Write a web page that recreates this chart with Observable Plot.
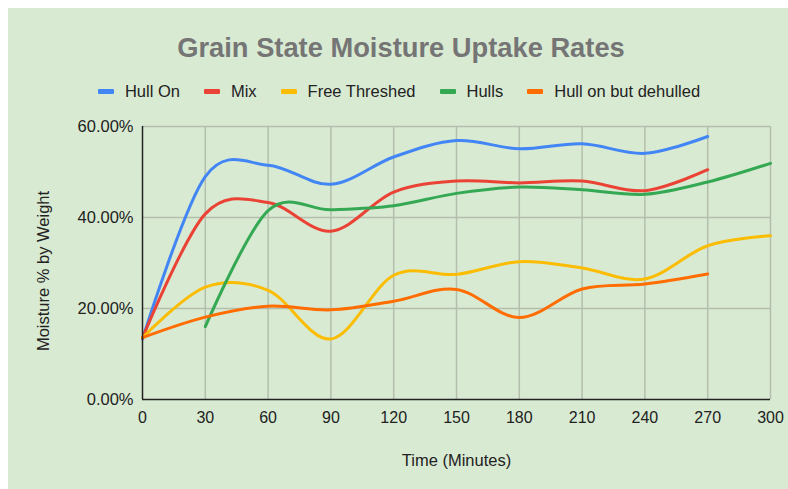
<!DOCTYPE html>
<html>
<head>
<meta charset="utf-8">
<script src="https://cdn.jsdelivr.net/npm/d3@7"></script>
<script src="https://cdn.jsdelivr.net/npm/@observablehq/plot@0.6"></script>
<style>
  html, body { margin: 0; padding: 0; background: #ffffff; width: 788px; height: 489px; overflow: hidden; }
  #bg { position: absolute; left: 8px; top: 8px; width: 780px; height: 481px; background: #d9ead3; }
  #title { position: absolute; left: 11px; top: 34.4px; width: 780px; text-align: center;
           font: bold 27.3px "Liberation Sans", Arial, sans-serif; line-height: 27.3px; color: #757575; white-space: nowrap; }
  #legend { position: absolute; left: 9px; top: 83px; width: 780px; display: flex; justify-content: center; align-items: center;
            font: 16.5px "Liberation Sans", Arial, sans-serif; line-height: 16.5px; color: #222; white-space: nowrap; }
  .item { display: flex; align-items: center; margin: 0 12px; }
  .sw { width: 16px; height: 5px; border-radius: 1px; margin-right: 11px; }
  #chart { position: absolute; left: 0; top: 100px; }
</style>
</head>
<body>
<div id="bg"></div>
<div id="title"></div>
<div id="legend"></div>
<div id="chart"></div>
<script>
const chartTitle = "Grain State Moisture Uptake Rates";
const xTitle = "Time (Minutes)";
const yTitle = "Moisture % by Weight";

const minutes = [0, 30, 60, 90, 120, 150, 180, 210, 240, 270, 300];
const seriesNames = ["Hull On", "Mix", "Free Threshed", "Hulls", "Hull on but dehulled"];
const seriesColors = ["#4285f4", "#ea4335", "#fbbc04", "#34a853", "#ff6d01"];

const hullOn       = [13.3, 49.0, 51.5, 47.3, 53.3, 56.9, 55.1, 56.2, 54.1, 57.8, null];
const mix          = [13.5, 40.8, 43.3, 37.0, 45.6, 48.0, 47.6, 48.0, 45.9, 50.5, null];
const freeThreshed = [13.6, 24.7, 24.0, 13.3, 27.3, 27.5, 30.3, 28.9, 26.5, 33.8, 36.0];
const hulls        = [null, 16.0, 41.5, 41.7, 42.6, 45.3, 46.7, 46.1, 45.1, 47.8, 51.9];
const dehulled     = [13.6, 18.1, 20.5, 19.7, 21.6, 24.2, 18.0, 24.3, 25.4, 27.6, null];

const yTicks = [0, 20, 40, 60];
const xTicks = minutes;

const allValues = [hullOn, mix, freeThreshed, hulls, dehulled];
const rows = [];
seriesNames.forEach((name, i) => {
  allValues[i].forEach((v, j) => {
    if (v != null) rows.push({series: name, minute: minutes[j], value: v});
  });
});

document.getElementById("title").textContent = chartTitle;
const legend = document.getElementById("legend");
seriesNames.forEach((name, i) => {
  const item = document.createElement("div");
  item.className = "item";
  const sw = document.createElement("div");
  sw.className = "sw";
  sw.style.background = seriesColors[i];
  const t = document.createElement("span");
  t.textContent = name;
  item.appendChild(sw);
  item.appendChild(t);
  legend.appendChild(item);
});

const gridColor = "#b3bfac";

const plot = Plot.plot({
  width: 788,
  height: 389,
  marginTop: 26,
  marginBottom: 90,
  marginLeft: 142,
  marginRight: 18,
  style: {background: "transparent", fontFamily: "'Liberation Sans', Arial, sans-serif", fontSize: "16px", color: "#222"},
  x: {domain: [0, 300]},
  y: {domain: [0, 60]},
  color: {domain: seriesNames, range: seriesColors},
  marks: [
    Plot.ruleX(xTicks.filter(d => d > 0), {stroke: gridColor, strokeWidth: 1.5}),
    Plot.ruleY(yTicks.filter(d => d > 0), {stroke: gridColor, strokeWidth: 1.5}),
    Plot.axisX({ticks: xTicks, tickSize: 0, tickPadding: 12, tickFormat: d => String(d), fontSize: 16,
                label: null, fill: "#222"}),
    Plot.axisY({ticks: yTicks, tickSize: 0, tickPadding: 9, tickFormat: d => d.toFixed(2) + "%", fontSize: 16.5,
                label: null, fill: "#222"}),
    Plot.text([xTitle], {text: d => d, frameAnchor: "bottom", textAnchor: "middle", lineAnchor: "bottom", dy: 66.5, fontSize: 16.5, fill: "#222"}),
    Plot.text([yTitle], {text: d => d, frameAnchor: "left", textAnchor: "middle", lineAnchor: "top", rotate: -90, dx: -105.5, dy: 8, fontSize: 16.5, fill: "#222"}),
    Plot.line(rows, {x: "minute", y: "value", z: "series", stroke: "series", curve: "cardinal", tension: 0, strokeWidth: 3}),
    Plot.ruleY([0], {stroke: "#222", strokeWidth: 1.5}),
    Plot.ruleX([0], {stroke: "#222", strokeWidth: 1.5})
  ]
});
document.getElementById("chart").appendChild(plot);
</script>
</body>
</html>
